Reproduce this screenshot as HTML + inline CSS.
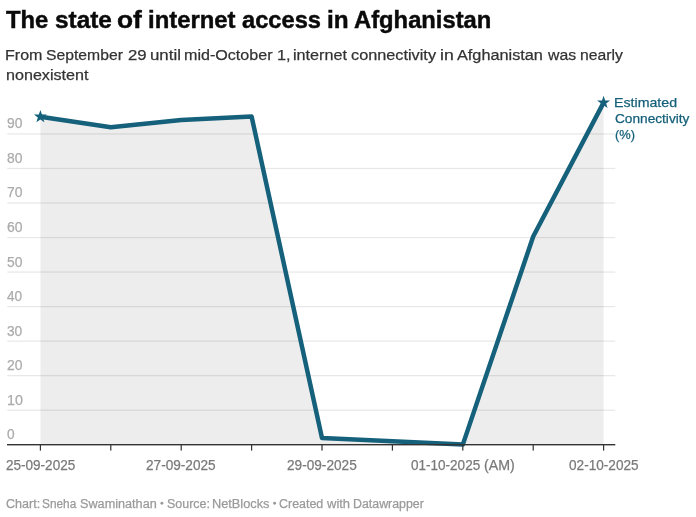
<!DOCTYPE html>
<html><head><meta charset="utf-8">
<style>
html,body{margin:0;padding:0;background:#fff;}
body{width:696px;height:517px;position:relative;overflow:hidden;font-family:"Liberation Sans",sans-serif;}
.w{position:absolute;white-space:nowrap;line-height:1;transform-origin:0 0;display:block;}
svg{position:absolute;left:0;top:0;}
#tx{position:absolute;left:0;top:0;width:696px;height:517px;will-change:transform;}
</style></head><body>
<svg width="696" height="517" viewBox="0 0 696 517">
<g fill="#e8e8e8">
<rect x="7.3" y="133.33" width="608" height="1.25"/>
<rect x="7.3" y="167.86" width="608" height="1.25"/>
<rect x="7.3" y="202.39" width="608" height="1.25"/>
<rect x="7.3" y="236.92" width="608" height="1.25"/>
<rect x="7.3" y="271.45" width="608" height="1.25"/>
<rect x="7.3" y="305.98" width="608" height="1.25"/>
<rect x="7.3" y="340.51" width="608" height="1.25"/>
<rect x="7.3" y="375.04" width="608" height="1.25"/>
<rect x="7.3" y="409.57" width="608" height="1.25"/>
</g>
<path d="M40.4,116.7 L110.8,127.2 L181.2,120.0 L251.6,116.5 L322.0,437.9 L392.4,441.3 L462.8,444.6 L533.2,236.5 L603.6,102.6 L603.6,445 L40.4,445 Z" fill="#000" fill-opacity="0.069"/>
<path d="M40.4,116.7 L110.8,127.2 L181.2,120.0 L251.6,116.5 L322.0,437.9 L392.4,441.3 L462.8,444.6 L533.2,236.5 L603.6,102.6" fill="none" stroke="#15607a" stroke-width="4.5" stroke-linejoin="round" stroke-linecap="round"/>
<rect x="7" y="444.0" width="608.3" height="1.4" fill="#333"/>
<g fill="#333">
<rect x="39.8" y="445" width="1.2" height="5.6"/>
<rect x="110.2" y="445" width="1.2" height="5.6"/>
<rect x="180.6" y="445" width="1.2" height="5.6"/>
<rect x="251.0" y="445" width="1.2" height="5.6"/>
<rect x="321.4" y="445" width="1.2" height="5.6"/>
<rect x="391.8" y="445" width="1.2" height="5.6"/>
<rect x="462.2" y="445" width="1.2" height="5.6"/>
<rect x="532.6" y="445" width="1.2" height="5.6"/>
<rect x="603.0" y="445" width="1.2" height="5.6"/>
</g>
<g fill="#15607a">
<polygon points="40.40,109.90 41.99,114.52 46.87,114.60 42.97,117.53 44.40,122.20 40.40,119.40 36.40,122.20 37.83,117.53 33.93,114.60 38.81,114.52"/>
<polygon points="603.60,95.80 605.19,100.42 610.07,100.50 606.17,103.43 607.60,108.10 603.60,105.30 599.60,108.10 601.03,103.43 597.13,100.50 602.01,100.42"/>
</g>
<circle cx="161.9" cy="503.2" r="1.45" fill="#9a9a9a"/>
<circle cx="274.6" cy="503.2" r="1.45" fill="#9a9a9a"/>
</svg>
<div id="tx">
<span class="w" style="left:6.35px;top:8px;font-size:24px;font-weight:bold;color:#0a0a0a;transform:scaleX(0.9922);-webkit-text-stroke:0.45px #0a0a0a">The</span>
<span class="w" style="left:54.61px;top:8px;font-size:24px;font-weight:bold;color:#0a0a0a;transform:scaleX(1.0152);-webkit-text-stroke:0.45px #0a0a0a">state</span>
<span class="w" style="left:117.31px;top:8px;font-size:24px;font-weight:bold;color:#0a0a0a;transform:scaleX(1.0943);-webkit-text-stroke:0.45px #0a0a0a">of</span>
<span class="w" style="left:147.58px;top:8px;font-size:24px;font-weight:bold;color:#0a0a0a;transform:scaleX(0.9939);-webkit-text-stroke:0.45px #0a0a0a">internet</span>
<span class="w" style="left:241.96px;top:8px;font-size:24px;font-weight:bold;color:#0a0a0a;transform:scaleX(0.9863);-webkit-text-stroke:0.45px #0a0a0a">access</span>
<span class="w" style="left:326.75px;top:8px;font-size:24px;font-weight:bold;color:#0a0a0a;transform:scaleX(1.0137);-webkit-text-stroke:0.45px #0a0a0a">in</span>
<span class="w" style="left:354.18px;top:8px;font-size:24px;font-weight:bold;color:#0a0a0a;transform:scaleX(0.9905);-webkit-text-stroke:0.45px #0a0a0a">Afghanistan</span>
<span class="w" style="left:5.39px;top:47px;font-size:15.3px;font-weight:normal;color:#333333;transform:scaleX(1.0487);-webkit-text-stroke:0.25px #333333">From</span>
<span class="w" style="left:46.43px;top:47px;font-size:15.3px;font-weight:normal;color:#333333;transform:scaleX(1.0278);-webkit-text-stroke:0.25px #333333">September</span>
<span class="w" style="left:128.18px;top:47px;font-size:15.3px;font-weight:normal;color:#333333;transform:scaleX(1.0968);-webkit-text-stroke:0.25px #333333">29</span>
<span class="w" style="left:149.60px;top:47px;font-size:15.3px;font-weight:normal;color:#333333;transform:scaleX(1.1000);-webkit-text-stroke:0.25px #333333">until</span>
<span class="w" style="left:184.25px;top:47px;font-size:15.3px;font-weight:normal;color:#333333;transform:scaleX(1.0522);-webkit-text-stroke:0.25px #333333">mid-October</span>
<span class="w" style="left:276.60px;top:47px;font-size:15.3px;font-weight:normal;color:#333333;transform:scaleX(1.0634);-webkit-text-stroke:0.25px #333333">1,</span>
<span class="w" style="left:292.94px;top:47px;font-size:15.3px;font-weight:normal;color:#333333;transform:scaleX(1.0566);-webkit-text-stroke:0.25px #333333">internet</span>
<span class="w" style="left:351.04px;top:47px;font-size:15.3px;font-weight:normal;color:#333333;transform:scaleX(1.0637);-webkit-text-stroke:0.25px #333333">connectivity</span>
<span class="w" style="left:440.15px;top:47px;font-size:15.3px;font-weight:normal;color:#333333;transform:scaleX(1.1544);-webkit-text-stroke:0.25px #333333">in</span>
<span class="w" style="left:457.20px;top:47px;font-size:15.3px;font-weight:normal;color:#333333;transform:scaleX(1.0633);-webkit-text-stroke:0.25px #333333">Afghanistan</span>
<span class="w" style="left:547.80px;top:47px;font-size:15.3px;font-weight:normal;color:#333333;transform:scaleX(1.0329);-webkit-text-stroke:0.25px #333333">was</span>
<span class="w" style="left:579.77px;top:47px;font-size:15.3px;font-weight:normal;color:#333333;transform:scaleX(1.0265);-webkit-text-stroke:0.25px #333333">nearly</span>
<span class="w" style="left:5.65px;top:67px;font-size:15.3px;font-weight:normal;color:#333333;transform:scaleX(1.0541);-webkit-text-stroke:0.25px #333333">nonexistent</span>
<span class="w" style="left:5.58px;top:458px;font-size:14px;font-weight:normal;color:#7a7a7a;transform:scaleX(0.9665);-webkit-text-stroke:0.25px #7a7a7a">25-09-2025</span>
<span class="w" style="left:146.27px;top:458px;font-size:14px;font-weight:normal;color:#7a7a7a;transform:scaleX(0.9722);-webkit-text-stroke:0.25px #7a7a7a">27-09-2025</span>
<span class="w" style="left:287.07px;top:458px;font-size:14px;font-weight:normal;color:#7a7a7a;transform:scaleX(0.9737);-webkit-text-stroke:0.25px #7a7a7a">29-09-2025</span>
<span class="w" style="left:411.22px;top:458px;font-size:14px;font-weight:normal;color:#7a7a7a;transform:scaleX(0.9660);-webkit-text-stroke:0.25px #7a7a7a">01-10-2025</span>
<span class="w" style="left:483.91px;top:458px;font-size:14px;font-weight:normal;color:#7a7a7a;transform:scaleX(1.0166);-webkit-text-stroke:0.25px #7a7a7a">(AM)</span>
<span class="w" style="left:569.01px;top:458px;font-size:14px;font-weight:normal;color:#7a7a7a;transform:scaleX(0.9716);-webkit-text-stroke:0.25px #7a7a7a">02-10-2025</span>
<span class="w" style="left:614.20px;top:96px;font-size:13.3px;font-weight:normal;color:#15607a;transform:scaleX(1.0661);-webkit-text-stroke:0.25px #15607a">Estimated</span>
<span class="w" style="left:614.86px;top:112px;font-size:13.3px;font-weight:normal;color:#15607a;transform:scaleX(1.0272);-webkit-text-stroke:0.25px #15607a">Connectivity</span>
<span class="w" style="left:614.95px;top:128px;font-size:13.3px;font-weight:normal;color:#15607a;transform:scaleX(0.9684);-webkit-text-stroke:0.25px #15607a">(%)</span>
<span class="w" style="left:5.67px;top:498px;font-size:12.5px;font-weight:normal;color:#9a9a9a;transform:scaleX(1.0047);-webkit-text-stroke:0.25px #9a9a9a">Chart:</span>
<span class="w" style="left:42.41px;top:498px;font-size:12.5px;font-weight:normal;color:#9a9a9a;transform:scaleX(0.9493);-webkit-text-stroke:0.25px #9a9a9a">Sneha</span>
<span class="w" style="left:80.17px;top:498px;font-size:12.5px;font-weight:normal;color:#9a9a9a;transform:scaleX(1.0128);-webkit-text-stroke:0.25px #9a9a9a">Swaminathan</span>
<span class="w" style="left:166.68px;top:498px;font-size:12.5px;font-weight:normal;color:#9a9a9a;transform:scaleX(0.9988);-webkit-text-stroke:0.25px #9a9a9a">Source:</span>
<span class="w" style="left:211.68px;top:498px;font-size:12.5px;font-weight:normal;color:#9a9a9a;transform:scaleX(1.0205);-webkit-text-stroke:0.25px #9a9a9a">NetBlocks</span>
<span class="w" style="left:279.38px;top:498px;font-size:12.5px;font-weight:normal;color:#9a9a9a;transform:scaleX(0.9953);-webkit-text-stroke:0.25px #9a9a9a">Created</span>
<span class="w" style="left:327.00px;top:498px;font-size:12.5px;font-weight:normal;color:#9a9a9a;transform:scaleX(1.0386);-webkit-text-stroke:0.25px #9a9a9a">with</span>
<span class="w" style="left:353.01px;top:498px;font-size:12.5px;font-weight:normal;color:#9a9a9a;transform:scaleX(0.9904);-webkit-text-stroke:0.25px #9a9a9a">Datawrapper</span>
<span class="w" style="left:7.18px;top:116px;font-size:14px;font-weight:normal;color:#ababab;transform:scaleX(0.9878);-webkit-text-stroke:0.25px #ababab">90</span>
<span class="w" style="left:7.18px;top:151px;font-size:14px;font-weight:normal;color:#ababab;transform:scaleX(0.9878);-webkit-text-stroke:0.25px #ababab">80</span>
<span class="w" style="left:7.05px;top:185px;font-size:14px;font-weight:normal;color:#ababab;transform:scaleX(0.9965);-webkit-text-stroke:0.25px #ababab">70</span>
<span class="w" style="left:7.05px;top:220px;font-size:14px;font-weight:normal;color:#ababab;transform:scaleX(0.9965);-webkit-text-stroke:0.25px #ababab">60</span>
<span class="w" style="left:7.18px;top:255px;font-size:14px;font-weight:normal;color:#ababab;transform:scaleX(0.9878);-webkit-text-stroke:0.25px #ababab">50</span>
<span class="w" style="left:7.44px;top:289px;font-size:14px;font-weight:normal;color:#ababab;transform:scaleX(0.9709);-webkit-text-stroke:0.25px #ababab">40</span>
<span class="w" style="left:7.31px;top:324px;font-size:14px;font-weight:normal;color:#ababab;transform:scaleX(0.9793);-webkit-text-stroke:0.25px #ababab">30</span>
<span class="w" style="left:7.05px;top:358px;font-size:14px;font-weight:normal;color:#ababab;transform:scaleX(0.9965);-webkit-text-stroke:0.25px #ababab">20</span>
<span class="w" style="left:6.65px;top:393px;font-size:14px;font-weight:normal;color:#ababab;transform:scaleX(1.0234);-webkit-text-stroke:0.25px #ababab">10</span>
<span class="w" style="left:7.31px;top:427px;font-size:14px;font-weight:normal;color:#ababab;transform:scaleX(0.9778);-webkit-text-stroke:0.25px #ababab">0</span>
</div>
</body></html>
